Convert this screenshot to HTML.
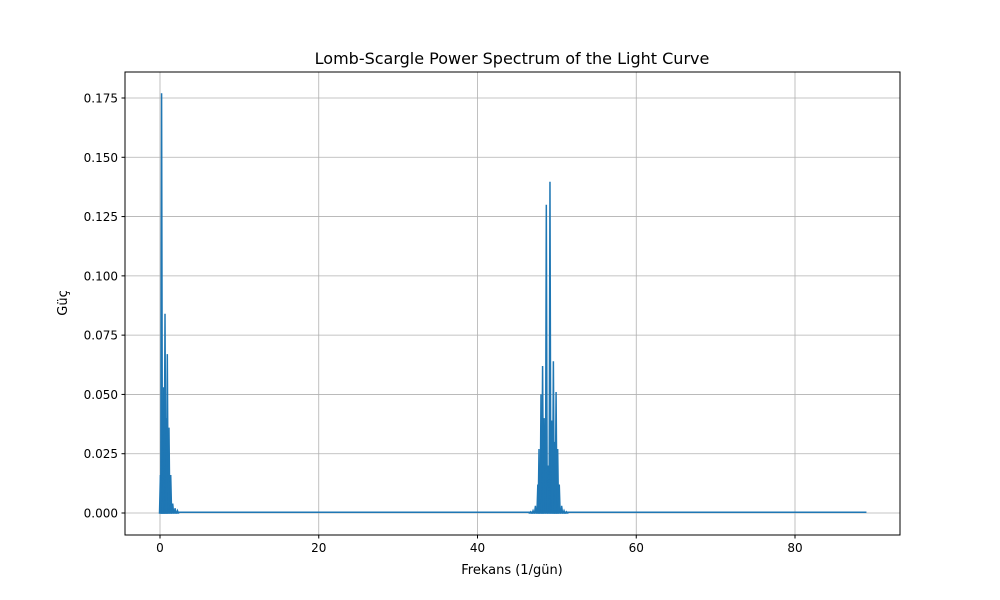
<!DOCTYPE html>
<html><head><meta charset="utf-8"><style>
body{margin:0;background:#fff;}
svg{display:block;font-family:"DejaVu Sans","Liberation Sans",sans-serif;}
</style></head><body>
<svg id="chart" width="1000" height="600">
<rect width="1000" height="600" fill="#fff"/>
<text x="512" y="64" text-anchor="middle" font-size="16">Lomb-Scargle Power Spectrum of the Light Curve</text>
<g id="grid"></g><g id="ticks"></g>
<g id="series"></g>
<rect x="125" y="72" width="775" height="463" fill="none" stroke="#000" stroke-width="1"/>
<text x="512" y="574" text-anchor="middle" font-size="13">Frekans (1/gün)</text>
<text transform="translate(67,303) rotate(-90)" text-anchor="middle" font-size="13">Güç</text>
</svg>
<script>
const xTicks=[0,20,40,60,80];
const yTicks=[0,0.025,0.05,0.075,0.1,0.125,0.15,0.175];
const yTickLabels=["0.000","0.025","0.050","0.075","0.100","0.125","0.150","0.175"];
const peakFreqs=[0.05,0.2,0.35,0.45,0.63,0.78,0.92,1.13,1.35,1.6,1.9,2.2,
 46.7,47.0,47.3,47.6,47.75,48.0,48.2,48.4,48.67,48.9,49.13,49.35,49.56,49.75,49.9,50.1,50.3,50.6,50.9,51.2];
const peakPowers=[0.016,0.177,0.02,0.053,0.084,0.04,0.067,0.036,0.016,0.004,0.002,0.001,
 0.0005,0.001,0.003,0.012,0.027,0.05,0.062,0.04,0.13,0.02,0.1397,0.039,0.064,0.03,0.051,0.027,0.012,0.003,0.001,0.0005];
const fMax=89;
const sx=f=>160+f*(795-160)/80;
const sy=v=>513-v*(513-98)/0.175;
const NS="http://www.w3.org/2000/svg";
const svg=document.getElementById('chart');
const grid=document.getElementById('grid'),ticks=document.getElementById('ticks'),ser=document.getElementById('series');
function mk(tag,attrs,parent){const e=document.createElementNS(NS,tag);for(const k in attrs)e.setAttribute(k,attrs[k]);parent.appendChild(e);return e;}
xTicks.forEach(t=>{const x=sx(t);
 const g=mk('line',{x1:x,x2:x,y1:72,y2:535,stroke:'#b0b0b0','stroke-width':0.8},grid);
 
 
 mk('line',{x1:x,x2:x,y1:535,y2:538.5,stroke:'#000'},ticks);
 const tx=mk('text',{x:x,y:552,'text-anchor':'middle','font-size':12},ticks);tx.textContent=t;
 
 
});
yTicks.forEach((t,i)=>{const y=sy(t);
 const g=mk('line',{x1:125,x2:900,y1:y,y2:y,stroke:'#b0b0b0','stroke-width':0.8},grid);
 
 
 mk('line',{x1:121.5,x2:125,y1:y,y2:y,stroke:'#000'},ticks);
 const tx=mk('text',{x:118,y:y+4.5,'text-anchor':'end','font-size':12},ticks);tx.textContent=yTickLabels[i];
 
 
});
const base=mk('line',{x1:sx(0),x2:sx(fMax),y1:sy(0.0003),y2:sy(0.0003),stroke:'#1f77b4','stroke-width':1.5},ser);


const w=0.11;
peakFreqs.forEach((f,i)=>{
 const p=peakPowers[i];
 const d=`M${sx(f-w)},${sy(0)} L${sx(f)},${sy(p)} L${sx(f+w)},${sy(0)} Z`;
 const e=mk('path',{d:d,fill:'#1f77b4',stroke:'#1f77b4','stroke-width':1.5,'stroke-linejoin':'miter'},ser);
 
 
});
</script>
</body></html>
